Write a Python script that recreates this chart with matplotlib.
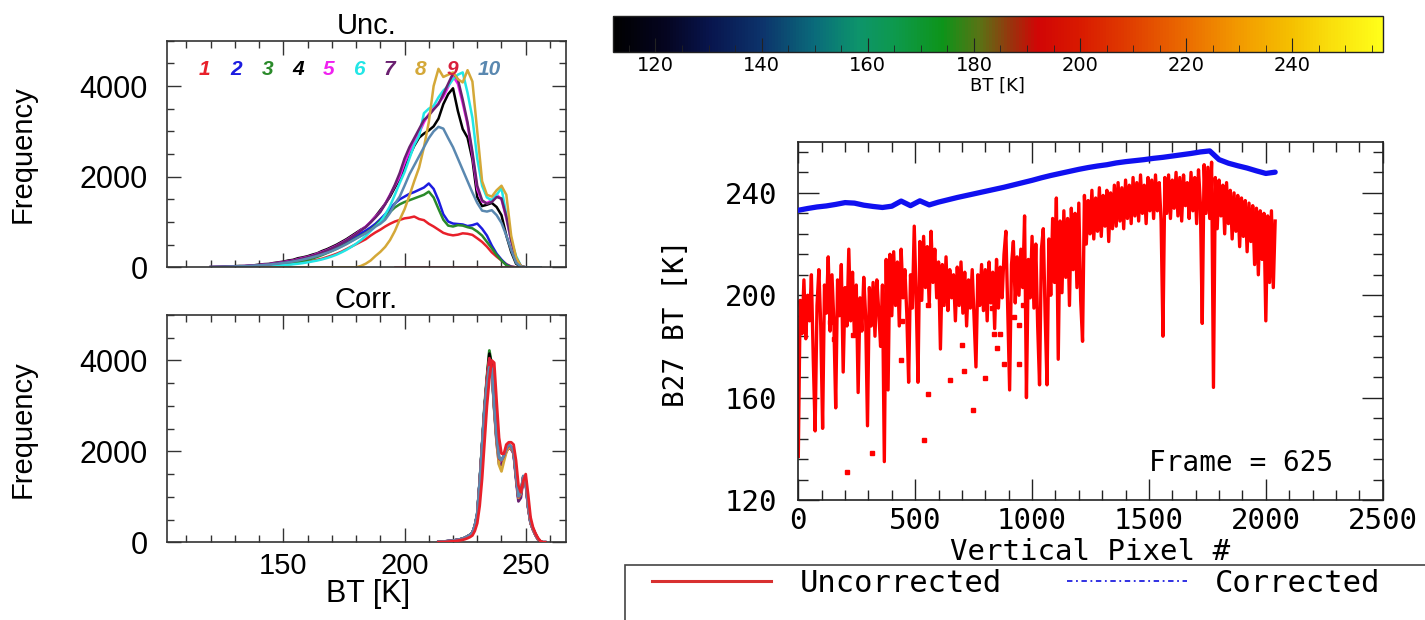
import numpy as np
import matplotlib
matplotlib.use("Agg")
import matplotlib.pyplot as plt
from matplotlib.colors import LinearSegmentedColormap, Normalize
from matplotlib.cm import ScalarMappable
from matplotlib.lines import Line2D
from matplotlib.patches import Rectangle
from matplotlib.ticker import MultipleLocator

# ---------------------------------------------------------------- data
CHANNEL_LABELS = ["1", "2", "3", "4", "5", "6", "7", "8", "9", "10"]
CHANNEL_COLORS = ["#e8202a", "#1c1ce0", "#2a8a2a", "#000000", "#f020f0",
                  "#22e6e6", "#6a2070", "#d4a838", "#d8203c", "#5a88b0"]
CHANNEL_LABEL_BT = [117.6, 130.5, 143.3, 156.3, 168.5, 181.0, 193.6, 206.4, 219.6, 235.0]

# uncorrected histograms, bins 120..256 K (2 K wide)
UNC_BT = list(range(120, 258, 2))
UNC_1 = [0, 0, 2, 4, 5, 8, 10, 12, 15, 18,
         22, 26, 30, 38, 45, 55, 65, 78, 92, 110,
         128, 145, 165, 190, 225, 260, 300, 345, 400, 455,
         510, 565, 620, 700, 770, 830, 900, 960, 1010, 1045,
         1080, 1095, 1120, 1065, 1040, 960, 900, 830, 760, 725,
         705, 720, 750, 740, 715, 640, 560, 455, 330, 235,
         150, 70, 18, 0, 0, 0, 0, 0, 0]
UNC_2 = [0, 2, 3, 5, 6, 8, 10, 14, 16, 20,
         26, 32, 40, 50, 62, 76, 92, 110, 130, 155,
         190, 220, 255, 295, 340, 390, 440, 500, 560, 630,
         690, 750, 810, 880, 960, 1060, 1170, 1290, 1410, 1500,
         1560, 1620, 1660, 1710, 1760, 1850, 1730, 1480, 1170, 1010,
         965, 955, 945, 910, 930, 965, 850, 700, 480, 300,
         170, 60, 10, 0, 0, 0, 0, 0, 0]
UNC_3 = [0, 1, 3, 4, 6, 8, 10, 12, 15, 18,
         24, 30, 38, 46, 56, 68, 82, 98, 116, 138,
         165, 195, 230, 270, 315, 360, 410, 465, 520, 580,
         640, 700, 760, 830, 920, 1030, 1120, 1220, 1320, 1390,
         1440, 1480, 1520, 1560, 1600, 1670, 1540, 1290, 1050, 920,
         900, 930, 920, 885, 860, 790, 700, 560, 420, 270,
         150, 45, 5, 0, 0, 0, 0, 0, 0]
UNC_4 = [8, 10, 12, 18, 15, 25, 30, 28, 40, 45,
         60, 70, 75, 95, 110, 125, 150, 165, 200, 220,
         245, 280, 310, 360, 400, 450, 500, 560, 620, 690,
         760, 830, 890, 1000, 1120, 1260, 1400, 1560, 1760, 1950,
         2180, 2450, 2680, 2860, 2950, 3020, 3110, 3280, 3600, 3820,
         3950, 3450, 3050, 2860, 2380, 1550, 1350, 1380, 1420, 1330,
         1150, 700, 340, 80, 10, 0, 0, 0, 0]
UNC_5 = [5, 8, 10, 12, 15, 18, 24, 28, 35, 40,
         50, 60, 70, 85, 100, 115, 135, 150, 180, 205,
         230, 260, 300, 340, 380, 430, 480, 540, 600, 670,
         740, 820, 900, 1000, 1120, 1230, 1400, 1600, 1800, 2000,
         2300, 2560, 2800, 2960, 3200, 3380, 3500, 3620, 3760, 3980,
         4220, 4050, 3620, 3150, 2480, 1720, 1450, 1420, 1480, 1600,
         1500, 1080, 580, 180, 20, 0, 0, 0, 0]
UNC_6 = [2, 3, 4, 5, 6, 8, 10, 12, 14, 17,
         20, 24, 28, 34, 40, 48, 56, 66, 78, 92,
         110, 130, 150, 175, 205, 240, 280, 330, 385, 450,
         520, 600, 690, 800, 900, 1000, 1160, 1350, 1600, 1860,
         2100, 2400, 2700, 2900, 3400, 3500, 3560, 3750, 3900, 4000,
         4150, 4250, 4300, 3850, 3300, 2400, 1800, 1540, 1480, 1600,
         1750, 1150, 600, 250, 30, 0, 0, 0, 0]
UNC_7 = [4, 6, 8, 11, 14, 17, 22, 26, 32, 38,
         46, 56, 66, 80, 95, 110, 128, 145, 170, 195,
         222, 252, 290, 330, 372, 420, 470, 530, 590, 660,
         730, 810, 890, 990, 1100, 1220, 1390, 1590, 1820, 2080,
         2400, 2650, 2850, 3050, 3250, 3350, 3480, 3600, 3820, 4050,
         4280, 4150, 3700, 3200, 2550, 1800, 1480, 1400, 1440, 1550,
         1520, 1120, 600, 200, 30, 0, 0, 0, 0]
UNC_8 = [0, 0, 0, 0, 0, 0, 0, 0, 0, 0,
         0, 0, 0, 0, 0, 0, 0, 0, 0, 0,
         0, 0, 0, 0, 0, 0, 0, 0, 0, 0,
         0, 30, 80, 150, 250, 340, 450, 600, 800, 1050,
         1280, 1580, 1900, 2200, 2650, 3200, 4000, 4380, 4200, 4250,
         4300, 4150, 4080, 4350, 4100, 3000, 1900, 1600, 1560, 1700,
         1800, 1600, 700, 220, 20, 0, 0, 0, 0]
UNC_9 = [None] * 38 + [0] * 26 + [None] * 5
UNC_10 = [5, 7, 9, 12, 15, 18, 22, 27, 32, 38,
          45, 52, 60, 70, 82, 95, 110, 128, 148, 170,
          195, 222, 252, 285, 320, 360, 405, 455, 510, 570,
          630, 690, 750, 820, 900, 960, 1050, 1200, 1400, 1560,
          1800, 2050, 2250, 2450, 2650, 2850, 3000, 3100, 3060, 2850,
          2650, 2400, 2150, 1900, 1650, 1420, 1250, 1230, 1260, 1150,
          980, 700, 380, 100, 10, 0, 0, 0, 0]
UNC_COUNTS = [UNC_1, UNC_2, UNC_3, UNC_4, UNC_5, UNC_6, UNC_7, UNC_8, UNC_9, UNC_10]

# corrected histograms, bins 214..258 K (1 K wide)
CORR_BT = list(range(214, 259))
CORR_1 = [0, 3, 6, 10, 14, 18, 22, 28, 36, 45,
          55, 70, 90, 115, 150, 250, 420, 800, 1400, 2200,
          3000, 3600, 4000, 3950, 3100, 2300, 1950, 1950, 2150, 2200,
          2200, 2150, 1800, 1250, 1100, 1350, 1500, 1050, 550, 330,
          200, 100, 30, 0, 0]
CORR_2 = [4, 8, 14, 18, 24, 30, 34, 44, 52, 62,
          78, 98, 128, 160, 210, 360, 620, 1320, 2120, 2950,
          3550, 3950, 3800, 2950, 2250, 1800, 1780, 1880, 2000, 2120,
          2080, 1980, 1450, 950, 1050, 1420, 1330, 780, 430, 280,
          170, 70, 15, 0, 0]
CORR_3 = [5, 9, 15, 21, 26, 31, 36, 46, 56, 66,
          82, 102, 132, 165, 205, 360, 620, 1330, 2150, 3000,
          3650, 4220, 3900, 3050, 2300, 1830, 1790, 1900, 2040, 2130,
          2090, 1990, 1480, 980, 1080, 1440, 1340, 790, 440, 290,
          175, 75, 18, 0, 0]
CORR_4 = [5, 10, 16, 20, 25, 30, 35, 45, 55, 65,
          80, 100, 130, 162, 202, 355, 610, 1310, 2120, 2920,
          3600, 4150, 3880, 3020, 2280, 1840, 1800, 1890, 2030, 2120,
          2080, 1990, 1470, 980, 1070, 1430, 1340, 790, 440, 290,
          170, 72, 16, 0, 0]
CORR_5 = [4, 9, 14, 19, 24, 29, 34, 44, 54, 64,
          78, 98, 128, 158, 198, 345, 590, 1280, 2080, 2880,
          3520, 4000, 3820, 2980, 2260, 1820, 1770, 1870, 2010, 2100,
          2060, 1970, 1460, 970, 1060, 1420, 1320, 780, 430, 285,
          165, 70, 15, 0, 0]
CORR_6 = [5, 10, 15, 20, 25, 30, 35, 45, 55, 65,
          80, 100, 130, 160, 200, 350, 600, 1290, 2090, 2880,
          3480, 3900, 3800, 2980, 2270, 1830, 1790, 1890, 2040, 2130,
          2090, 1990, 1490, 990, 1090, 1440, 1340, 790, 445, 295,
          175, 78, 18, 0, 0]
CORR_7 = [5, 10, 15, 20, 25, 30, 35, 45, 55, 65,
          80, 100, 130, 160, 200, 350, 600, 1300, 2100, 2900,
          3550, 3950, 3820, 2950, 2200, 1720, 1700, 1850, 2000, 2080,
          2050, 1950, 1400, 900, 980, 1400, 1300, 760, 420, 280,
          160, 70, 15, 0, 0]
CORR_8 = [3, 6, 10, 14, 18, 22, 28, 36, 45, 55,
          70, 90, 120, 150, 190, 340, 590, 1280, 2080, 2900,
          3560, 4000, 3780, 2900, 2200, 1700, 1560, 1780, 1980, 2100,
          2070, 1980, 1470, 980, 1070, 1430, 1330, 780, 430, 285,
          170, 72, 16, 0, 0]
CORR_9 = [5, 10, 15, 20, 25, 30, 35, 45, 55, 65,
          80, 100, 130, 160, 200, 350, 600, 1300, 2100, 2900,
          3580, 4050, 3860, 3000, 2290, 1840, 1800, 1900, 2050, 2140,
          2100, 2000, 1500, 1000, 1100, 1450, 1350, 800, 450, 300,
          180, 80, 20, 0, 0]
CORR_10 = [6, 11, 16, 21, 26, 31, 37, 47, 57, 67,
           82, 102, 132, 162, 205, 360, 620, 1300, 2100, 2880,
           3450, 3850, 3820, 3000, 2320, 1860, 1810, 1910, 2060, 2160,
           2110, 2010, 1510, 1010, 1110, 1460, 1360, 810, 455, 305,
           185, 82, 22, 0, 0]
CORR_COUNTS = [CORR_1, CORR_2, CORR_3, CORR_4, CORR_5,
               CORR_6, CORR_7, CORR_8, CORR_9, CORR_10]

# brightness temperature along the detector column, frame 625
PIXEL = list(range(0, 2041, 8))
BT_UNCORRECTED = [
    137, 198, 185, 206, 183, 200, 190, 208, 175, 147,
    196, 210, 188, 148, 204, 193, 215, 186, 208, 190,
    156, 206, 192, 212, 170, 203, 188, 218, 190, 209,
    184, 204, 162, 199, 186, 207, 192, 149, 203, 188,
    205, 184, 206, 194, 180, 204, 135, 214, 163, 216,
    192, 217, 196, 213, 188, 218, 199, 210, 193, 166,
    208, 195, 227, 200, 166, 221, 198, 223, 203, 219,
    196, 225, 205, 218, 199, 213, 179, 212, 196, 215,
    194, 210, 199, 208, 190, 211, 196, 213, 193, 209,
    188, 206, 195, 210, 191, 172, 208, 196, 212, 194,
    210, 190, 213, 197, 209, 187, 214, 195, 211, 199,
    216, 225, 194, 163, 212, 221, 197, 215, 200, 218,
    203, 231, 160, 214, 199, 223, 195, 220, 188, 165,
    218, 226, 192, 165, 222, 200, 230, 205, 238, 175,
    229, 201, 233, 207, 230, 196, 234, 210, 232, 203,
    236, 198, 182, 239, 220, 237, 224, 241, 222, 238,
    225, 242, 223, 239, 227, 241, 221, 240, 226, 243,
    227, 244, 229, 242, 226, 245, 230, 243, 228, 246,
    231, 244, 229, 247, 232, 243, 228, 246, 233, 245,
    230, 247, 233, 244, 229, 184, 246, 232, 247, 230,
    245, 234, 248, 231, 246, 229, 247, 235, 244, 230,
    248, 233, 246, 228, 249, 236, 189, 251, 232, 250,
    230, 252, 164, 246, 226, 245, 231, 243, 224, 244,
    228, 241, 222, 240, 225, 239, 219, 238, 223, 237,
    217, 236, 221, 235, 212, 234, 208, 233, 214, 232,
    190, 231, 205, 233, 203, 229]
OUTLIER_PIXEL = [210, 316, 537, 553, 651, 709, 749, 798, 439, 880, 946, 700,
                 839, 864, 848, 946, 921, 235, 136, 153, 445, 830, 555, 960]
OUTLIER_BT = [131.0, 138.2, 143.4, 161.6, 166.8, 170.5, 155.1, 167.7, 174.6,
              173.3, 173.3, 180.5, 185.0, 185.0, 179.2, 188.3, 191.5, 184.4,
              189.6, 183.0, 190.0, 195.0, 196.0, 196.0]
PIXEL_CORR = list(range(0, 2041, 40))
BT_CORRECTED = [233.2, 233.9, 234.5, 234.9, 235.5, 236.2, 236.0, 235.2, 234.7, 234.3,
                234.8, 236.8, 235.0, 236.9, 235.3, 236.4, 237.3, 238.2, 239.0, 239.8,
                240.6, 241.4, 242.2, 243.1, 244.0, 244.9, 245.9, 246.8, 247.6, 248.4,
                249.2, 249.9, 250.5, 251.0, 251.7, 252.2, 252.6, 253.0, 253.5, 253.9,
                254.4, 254.9, 255.4, 256.0, 256.4, 253.0, 251.6, 250.6, 249.7, 248.6,
                247.6, 248.1]
FRAME_NUMBER = 625

# colour scale nodes (K, rgb)
CMAP_BT = [112, 122, 130, 140, 150, 158, 165, 174, 181, 187,
           192, 200, 210, 220, 230, 240, 248, 257]
CMAP_RGB = [(0.00, 0.00, 0.00), (0.02, 0.02, 0.13), (0.03, 0.08, 0.30),
            (0.05, 0.20, 0.42), (0.04, 0.42, 0.48), (0.05, 0.58, 0.42),
            (0.05, 0.60, 0.30), (0.05, 0.58, 0.10), (0.35, 0.45, 0.08),
            (0.60, 0.20, 0.05), (0.82, 0.02, 0.02), (0.85, 0.10, 0.00),
            (0.88, 0.25, 0.00), (0.92, 0.42, 0.00), (0.95, 0.60, 0.00),
            (0.96, 0.75, 0.00), (0.98, 0.88, 0.05), (1.00, 1.00, 0.10)]

# ---------------------------------------------------------------- figure
W, H = 1425, 620
fig = plt.figure(figsize=(W / 100, H / 100), dpi=100)
SANS = "Liberation Sans"
MONO = "DejaVu Sans Mono"


def fig_rect(left, top, right, bottom):
    return [left / W, 1 - bottom / H, (right - left) / W, (bottom - top) / H]


def style_hist_axes(ax):
    ax.set_xlim(102.1, 266.5)
    ax.set_ylim(0, 5000)
    ax.xaxis.set_major_locator(MultipleLocator(50))
    ax.xaxis.set_minor_locator(MultipleLocator(10))
    ax.yaxis.set_major_locator(MultipleLocator(2000))
    ax.yaxis.set_minor_locator(MultipleLocator(500))
    ax.tick_params(which="both", direction="in", top=True, right=True,
                   color="#333333", width=1.0)
    ax.tick_params(which="major", length=10)
    ax.tick_params(which="minor", length=5)
    ax.tick_params(axis="y", labelsize=22, pad=14)
    ax.tick_params(axis="x", labelsize=21, pad=7)
    for lab in ax.get_xticklabels() + ax.get_yticklabels():
        lab.set_fontfamily(SANS)
    for sp in ax.spines.values():
        sp.set_color("#333333")
        sp.set_linewidth(1.2)
    ax.set_ylabel("Frequency", fontsize=21, fontfamily=SANS)
    ax.yaxis.set_label_coords(-0.327, 0.5)


# uncorrected histograms
ax_unc = fig.add_axes(fig_rect(167.3, 40.7, 565.7, 267.3))
for counts, color in zip(UNC_COUNTS, CHANNEL_COLORS):
    ax_unc.plot(UNC_BT, np.array(counts, dtype=float), color=color, lw=1.8)
style_hist_axes(ax_unc)
ax_unc.tick_params(axis="x", labelbottom=False)
ax_unc.set_title("Unc.", fontsize=21, fontfamily=SANS, pad=5)
for label, color, bt in zip(CHANNEL_LABELS, CHANNEL_COLORS, CHANNEL_LABEL_BT):
    ax_unc.text(bt, 4355, label, color=color, fontsize=15, fontweight="bold",
                fontstyle="italic", fontfamily=SANS, ha="center", va="center")

# corrected histograms
ax_corr = fig.add_axes(fig_rect(167.3, 315.0, 565.7, 542.3))
for i, (counts, color) in enumerate(zip(CORR_COUNTS, CHANNEL_COLORS)):
    ax_corr.plot(CORR_BT, counts, color=color, lw=2.0, zorder=3 if i == 0 else 2)
style_hist_axes(ax_corr)
ax_corr.set_title("Corr.", fontsize=21, fontfamily=SANS, pad=5)
ax_corr.set_xlabel("BT [K]", fontsize=22, fontfamily=SANS)
ax_corr.xaxis.set_label_coords(0.505, -0.16)

# colour bar
cmap = LinearSegmentedColormap.from_list(
    "bt_scale",
    [((b - CMAP_BT[0]) / (CMAP_BT[-1] - CMAP_BT[0]), c) for b, c in zip(CMAP_BT, CMAP_RGB)])
cax = fig.add_axes(fig_rect(613.0, 15.7, 1382.6, 52.3))
sm = ScalarMappable(norm=Normalize(CMAP_BT[0], CMAP_BT[-1]), cmap=cmap)
cb = fig.colorbar(sm, cax=cax, orientation="horizontal")
cb.set_ticks(list(range(120, 241, 20)))
cb.ax.xaxis.set_minor_locator(MultipleLocator(5))
cb.ax.tick_params(which="both", direction="in", color="#222222", bottom=True, top=False)
cb.ax.tick_params(which="major", length=10, labelsize=14, pad=3)
cb.ax.tick_params(which="minor", length=5)
cb.outline.set_edgecolor("#222222")
cb.outline.set_linewidth(1.0)
cb.set_label("BT [K]", fontsize=13, labelpad=1)

# brightness temperature along the column
ax = fig.add_axes(fig_rect(798.3, 141.7, 1382.7, 500.0))
ax.plot(PIXEL_CORR, BT_CORRECTED, color="#1010f0", lw=3.8, solid_capstyle="round", zorder=3)
ax.plot(PIXEL, BT_UNCORRECTED, color="#ff0000", lw=2.4, zorder=2)
ax.plot(OUTLIER_PIXEL, OUTLIER_BT, ls="none", marker="s", ms=2.2, color="#ff0000", zorder=2)
ax.set_xlim(0, 2500)
ax.set_ylim(120, 260)
ax.xaxis.set_major_locator(MultipleLocator(500))
ax.xaxis.set_minor_locator(MultipleLocator(100))
ax.set_yticks([120, 160, 200, 240])
ax.yaxis.set_minor_locator(MultipleLocator(8))
ax.tick_params(which="both", direction="in", top=True, right=True, color="#222222", width=1.0)
ax.tick_params(which="major", length=15)
ax.tick_params(which="minor", length=7)
ax.tick_params(axis="y", labelsize=21, pad=15)
ax.tick_params(axis="x", labelsize=21, pad=5)
for lab in ax.get_xticklabels() + ax.get_yticklabels():
    lab.set_fontfamily(MONO)
for sp in ax.spines.values():
    sp.set_color("#222222")
    sp.set_linewidth(1.2)
ax.set_xlabel("Vertical Pixel #", fontsize=21, fontfamily=MONO)
ax.xaxis.set_label_coords(0.50, -0.105)
ax.set_ylabel("B27 BT [K]", fontsize=20, fontfamily=MONO)
ax.yaxis.set_label_coords(-0.185, 0.494)
ax.text(2290, 134.5, f"Frame = {FRAME_NUMBER}", fontsize=20, fontfamily=MONO,
        ha="right", va="center")

# legend panel under the plot
fig.add_artist(Rectangle((625 / W, -0.05), 0.6, 0.05 + (H - 565) / H,
                         transform=fig.transFigure, fill=False,
                         edgecolor="#444444", lw=1.2))
handles = [Line2D([], [], color="#d83030", lw=2.2),
           Line2D([], [], color="#2020e0", lw=1.3, ls=(0, (3, 2, 1, 2)))]
fig.legend(handles, ["Uncorrected", "Corrected"], ncol=2, frameon=False,
           loc="center left", bbox_to_anchor=(652 / W, (H - 583) / H),
           prop={"family": MONO, "size": 22}, handlelength=3.9,
           handletextpad=0.93, columnspacing=2.15, borderpad=0, borderaxespad=0)

fig.savefig("out.png", dpi=100)
